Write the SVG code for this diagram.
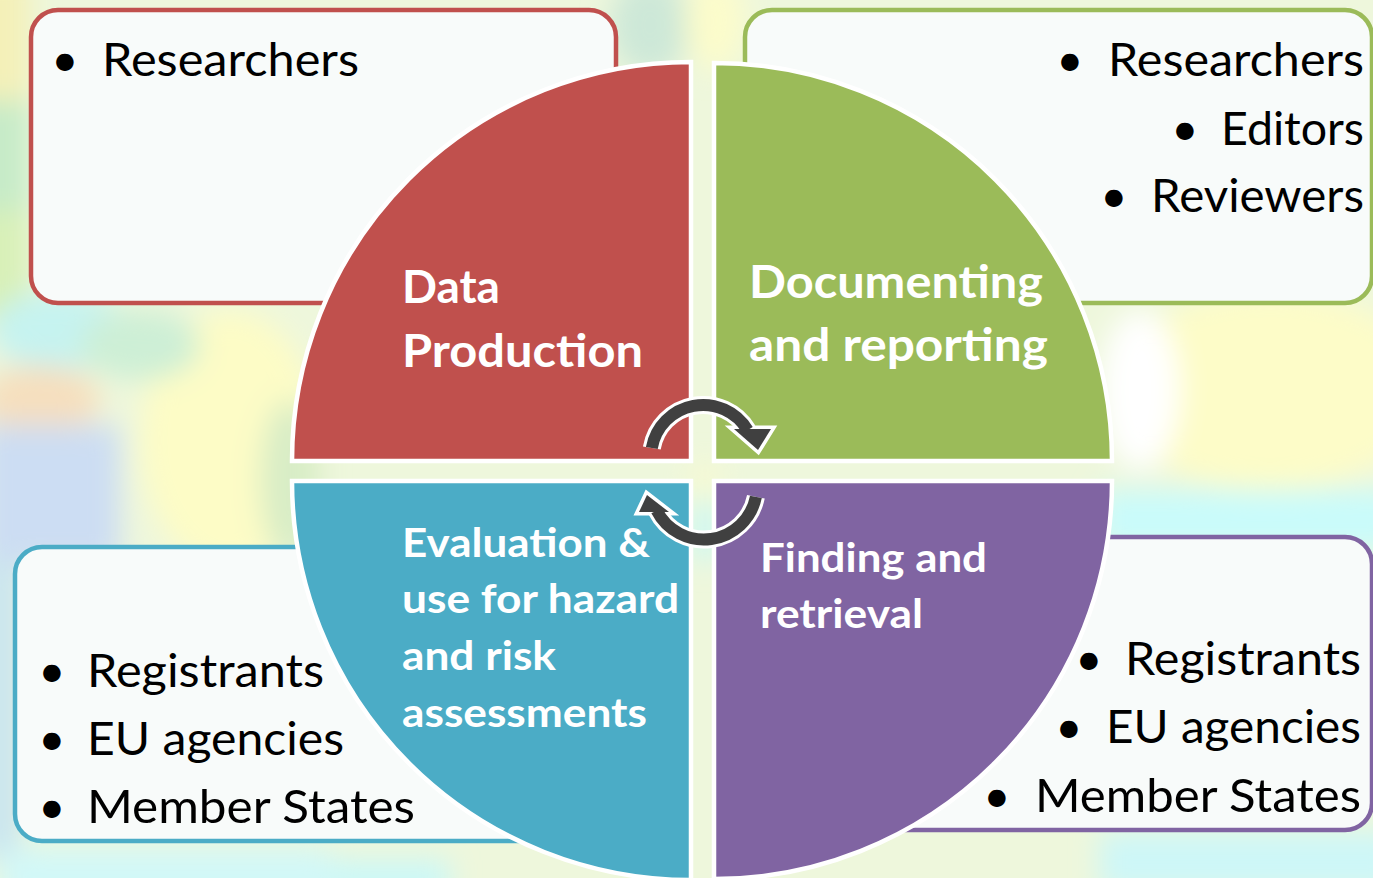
<svg xmlns="http://www.w3.org/2000/svg" width="1373" height="878" viewBox="0 0 1373 878">
<defs>
<filter id="blur" x="-20%" y="-20%" width="140%" height="140%"><feGaussianBlur stdDeviation="14"/></filter>
<style>
.box{fill:#F8FBFA;stroke-width:4.5}
.quad{stroke:#FFFFFF;stroke-width:4.5}
.item{font-family:Lato,"Open Sans",sans-serif;font-size:47px;fill:#000000}
.bul{font-family:Lato,"Open Sans",sans-serif;font-size:47px;fill:#000000;text-anchor:middle}
.lab{font-family:Lato,"Open Sans",sans-serif;font-weight:bold;fill:#FFFFFF}
.big{font-size:45px}
.small{font-size:40px}
.band-o{fill:none;stroke:#FFFFFF;stroke-width:18}
.band-i{fill:none;stroke:#404040;stroke-width:12}
.head-o{fill:#FFFFFF;stroke:#FFFFFF;stroke-width:7;stroke-linejoin:miter}
.head-i{fill:#404040}
</style>
</defs>

<g id="background">
<rect x="0" y="0" width="1373" height="878" fill="#EEF7DC"/>
<g filter="url(#blur)">
<rect x="-30" y="-30" width="60" height="140" fill="#F4F0B8"/>
<rect x="-30" y="100" width="60" height="120" fill="#C6EBC8"/>
<rect x="-30" y="210" width="60" height="110" fill="#D8F0B8"/>
<ellipse cx="60" cy="330" rx="70" ry="40" fill="#C6F3F0"/>
<ellipse cx="40" cy="400" rx="60" ry="35" fill="#F6DFBE"/>
<rect x="-20" y="425" width="140" height="140" fill="#CCDDF3"/>
<ellipse cx="230" cy="440" rx="90" ry="130" fill="#FDFCC6"/>
<ellipse cx="140" cy="345" rx="60" ry="35" fill="#CDEFD6"/>
<ellipse cx="290" cy="480" rx="30" ry="80" fill="#D8EDC6"/>
<rect x="-20" y="560" width="40" height="300" fill="#C8E4F0"/>
<rect x="0" y="848" width="330" height="60" fill="#D2F8F8"/>
<rect x="330" y="860" width="120" height="40" fill="#CBF8F8"/>
<ellipse cx="650" cy="25" rx="40" ry="50" fill="#CDE8D8"/>
<ellipse cx="715" cy="20" rx="30" ry="50" fill="#FCFCCB"/>
<ellipse cx="1270" cy="390" rx="160" ry="100" fill="#FDFCC8"/>
<ellipse cx="1140" cy="390" rx="40" ry="80" fill="#FFFFFF"/>
<rect x="1100" y="490" width="300" height="60" fill="#C9FBFB"/>
<rect x="1100" y="832" width="300" height="60" fill="#CDF7F8"/>
<rect x="690" y="465" width="30" height="40" fill="#F8FAD2"/>
<rect x="690" y="500" width="30" height="60" fill="#CFF8F2"/>
</g>
</g>

<g id="box-red">
<rect class="box" x="31" y="10" width="585" height="293" rx="27" stroke="#C0504D"/>
<text class="bul" x="65" y="76">•</text>
<text class="item" x="102" y="76" textLength="257" lengthAdjust="spacingAndGlyphs">Researchers</text>
</g>
<g id="box-green">
<rect class="box" x="745" y="10" width="627" height="293" rx="27" stroke="#9BBB59"/>
<text class="bul" x="1070" y="76">•</text>
<text class="item" x="1108" y="76" textLength="256" lengthAdjust="spacingAndGlyphs">Researchers</text>
<text class="bul" x="1185" y="145">•</text>
<text class="item" x="1221" y="145" textLength="143" lengthAdjust="spacingAndGlyphs">Editors</text>
<text class="bul" x="1114" y="212">•</text>
<text class="item" x="1151" y="212" textLength="213" lengthAdjust="spacingAndGlyphs">Reviewers</text>
</g>
<g id="box-blue">
<rect class="box" x="15" y="547" width="620" height="294" rx="27" stroke="#4BACC6"/>
<text class="bul" x="52" y="687">•</text>
<text class="item" x="87" y="687" textLength="237" lengthAdjust="spacingAndGlyphs">Registrants</text>
<text class="bul" x="52" y="755">•</text>
<text class="item" x="87" y="755" textLength="257" lengthAdjust="spacingAndGlyphs">EU agencies</text>
<text class="bul" x="52" y="823">•</text>
<text class="item" x="87" y="823" textLength="328" lengthAdjust="spacingAndGlyphs">Member States</text>
</g>
<g id="box-purple">
<rect class="box" x="760" y="537" width="612" height="293" rx="27" stroke="#8064A2"/>
<text class="bul" x="1089" y="675">•</text>
<text class="item" x="1125" y="675" textLength="236" lengthAdjust="spacingAndGlyphs">Registrants</text>
<text class="bul" x="1069" y="743">•</text>
<text class="item" x="1106" y="743" textLength="255" lengthAdjust="spacingAndGlyphs">EU agencies</text>
<text class="bul" x="997" y="812">•</text>
<text class="item" x="1035" y="812" textLength="326" lengthAdjust="spacingAndGlyphs">Member States</text>
</g>

<g id="data-production">
<path class="quad" d="M691 461 L292 461 A399 399 0 0 1 691 62 Z" fill="#C0504D"/>
<text class="lab big" x="402" y="303" textLength="98" lengthAdjust="spacingAndGlyphs">Data</text>
<text class="lab big" x="402" y="367" textLength="241" lengthAdjust="spacingAndGlyphs">Production</text>
</g>
<g id="documenting-reporting">
<path class="quad" d="M714 461 L714 63 A398 398 0 0 1 1112 461 Z" fill="#9BBB59"/>
<text class="lab big" x="749" y="298" textLength="294" lengthAdjust="spacingAndGlyphs">Documenting</text>
<text class="lab big" x="749" y="361" textLength="299" lengthAdjust="spacingAndGlyphs">and reporting</text>
</g>
<g id="evaluation">
<path class="quad" d="M691 481 L691 880 A399 399 0 0 1 292 481 Z" fill="#4BACC6"/>
<text class="lab small" x="402" y="557" textLength="248" lengthAdjust="spacingAndGlyphs">Evaluation &amp;</text>
<text class="lab small" x="402" y="613" textLength="277" lengthAdjust="spacingAndGlyphs">use for hazard</text>
<text class="lab small" x="402" y="670" textLength="154" lengthAdjust="spacingAndGlyphs">and risk</text>
<text class="lab small" x="402" y="727" textLength="245" lengthAdjust="spacingAndGlyphs">assessments</text>
</g>
<g id="finding-retrieval">
<path class="quad" d="M714 481 L1112 481 A398 398 0 0 1 714 879 Z" fill="#8064A2"/>
<text class="lab small" x="760" y="572" textLength="227" lengthAdjust="spacingAndGlyphs">Finding and</text>
<text class="lab small" x="760" y="628" textLength="163" lengthAdjust="spacingAndGlyphs">retrieval</text>
</g>

<g id="connectors">
<path class="band-o" d="M651.8 448 A52 52 0 0 1 747.6 430.2"/>
<polygon class="head-o" points="734,429 771,429 758,450"/>
<path class="band-o" d="M755.9 496.8 A53 53 0 0 1 656.7 510.6"/>
<polygon class="head-o" points="639,512 647,495 669,512"/>
<path class="band-i" d="M651.8 448 A52 52 0 0 1 747.6 430.2"/>
<polygon class="head-i" points="734,429 771,429 758,450"/>
<path class="band-i" d="M755.9 496.8 A53 53 0 0 1 656.7 510.6"/>
<polygon class="head-i" points="639,512 647,495 669,512"/>
</g>
</svg>
